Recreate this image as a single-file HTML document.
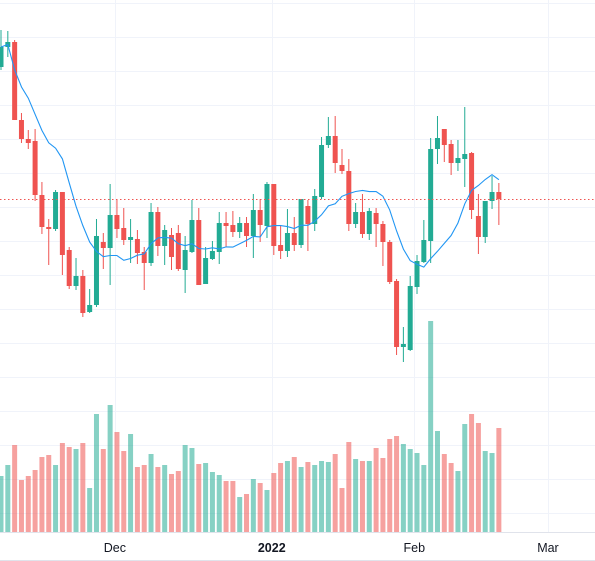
<!DOCTYPE html>
<html><head><meta charset="utf-8">
<style>
html,body{margin:0;padding:0;background:#fff;}
svg{display:block;font-family:"Liberation Sans",sans-serif;}
</style></head>
<body>
<svg id="chart" width="595" height="561" viewBox="0 0 595 561" xmlns="http://www.w3.org/2000/svg">
<g id="grid"></g>
<g id="volume"></g>
<g id="candles"></g>
<path id="ma" fill="none" stroke="#2196f3" stroke-width="1.1"/>
<line id="lastline" x1="0" x2="595" stroke="#ef5350" stroke-width="1" stroke-dasharray="1.5,2.5"/>
<line x1="0" x2="595" y1="532.5" y2="532.5" stroke="#e0e3eb"/>
<line x1="0" x2="595" y1="560.5" y2="560.5" stroke="#e0e3eb"/>
<g id="xlabels"></g>
</svg>
<script>
const opens  = [333,353,358,280,261,259,205,173,171,208,150,114,124,88,95,158,152,185,172,160,161,148,137,188,154,165,167,130,148,180,116,141,148,177,175,168,177,164,190,174,216,155,149,167,155,194,176,203,255,264,235,229,176,188,166,187,176,158,119,53,50,113,138,159,251,271,256,237,241,247,184,163,199,208];
const highs  = [370,369,360,287,270,271,218,181,210,208,153,142,130,111,181,167,216,200,192,181,170,153,197,193,175,172,175,164,200,192,153,159,188,188,189,183,183,206,201,218,216,174,191,183,201,200,211,263,283,284,251,241,197,206,192,192,179,160,121,73,124,145,180,262,284,271,260,260,293,248,206,199,224,217];
const lows   = [330,343,280,257,251,199,166,135,169,125,111,110,83,87,93,131,115,162,155,137,136,110,134,144,135,130,129,107,147,115,116,140,136,153,163,162,153,142,158,162,145,141,143,149,152,149,169,201,252,227,226,169,172,162,160,153,134,116,45,38,49,106,137,137,236,238,225,229,213,181,146,157,191,175];
const closes = [353,358,280,261,257,205,173,171,208,145,114,124,87,95,164,152,185,171,160,163,147,137,188,154,170,143,131,150,180,115,142,149,177,174,168,177,164,190,175,216,154,149,167,155,201,176,204,255,264,237,229,176,188,166,189,176,158,118,53,56,114,139,160,251,262,255,237,242,246,190,163,199,208,201];
const volumes = [56,67,87,52,56,62,75,77,67,89,85,83,89,44,118,83,127,100,81,98,65,67,78,65,67,58,61,87,84,68,69,60,57,51,51,35,38,53,49,42,59,69,71,75,65,70,67,71,70,78,44,90,73,71,71,84,74,93,96,88,83,79,67,211,101,78,69,61,108,118,109,81,79,104];
const tickLabels = ["Dec","2022","Feb","Mar"];
const tickPos = [16.7,39.7,60.6,80.2];
const maPeriod = 10;

const NS="http://www.w3.org/2000/svg";
function mk(tag,attrs,parent){const e=document.createElementNS(NS,tag);for(const k in attrs)e.setAttribute(k,attrs[k]);parent.appendChild(e);return e;}
function xS(i){return 1+6.82*i;}
function yS(p){return 400-p;}
function vS(v){return 532-v;}
const UP='#22ab94', DOWN='#ef5350';

const grid=document.getElementById('grid');
for(let y=3.5;y<530;y+=34){
  const l=mk('line',{x1:0,x2:595,y1:y,y2:y,stroke:'#f0f3fa','stroke-width':1},grid);
  
  
}
tickPos.forEach((t,k)=>{
  const x=Math.round(xS(t))+0.5;
  const l=mk('line',{x1:x,x2:x,y1:0,y2:532,stroke:'#f0f3fa','stroke-width':1},grid);
  
  
  const tx=mk('text',{x:xS(t),y:552,'text-anchor':'middle','font-size':12.5,fill:'#131722','font-weight':tickLabels[k]==='2022'?'bold':'normal'},document.getElementById('xlabels'));
  tx.textContent=tickLabels[k];
  
  
});

const vg=document.getElementById('volume');
const cg=document.getElementById('candles');
for(let i=0;i<closes.length;i++){
  const up=closes[i]>=opens[i];
  const x=xS(i);
  const vb=mk('rect',{x:x-2.5,y:vS(volumes[i]),width:5,height:volumes[i],fill:up?UP:DOWN,'fill-opacity':0.55},vg);
  
  
  const col=up?UP:DOWN;
  const w=mk('line',{x1:x,x2:x,y1:yS(highs[i]),y2:yS(lows[i]),stroke:col,'stroke-width':1},cg);
  
  
  const top=yS(Math.max(opens[i],closes[i]));
  const h=Math.max(1,Math.abs(opens[i]-closes[i]));
  const b=mk('rect',{x:x-2.5,y:top,width:5,height:h,fill:col},cg);
  
  
}
let d='';
for(let i=0;i<closes.length;i++){
  const s=Math.max(0,i-maPeriod+1);let sum=0;
  for(let j=s;j<=i;j++)sum+=closes[j];
  const m=sum/(i-s+1);
  d+=(i?'L':'M')+xS(i).toFixed(1)+','+yS(m).toFixed(1);
}
document.getElementById('ma').setAttribute('d',d);
const ly=yS(closes[closes.length-1])+0.5;
const ll=document.getElementById('lastline');
ll.setAttribute('y1',ly);ll.setAttribute('y2',ly);
</script>
</body></html>
